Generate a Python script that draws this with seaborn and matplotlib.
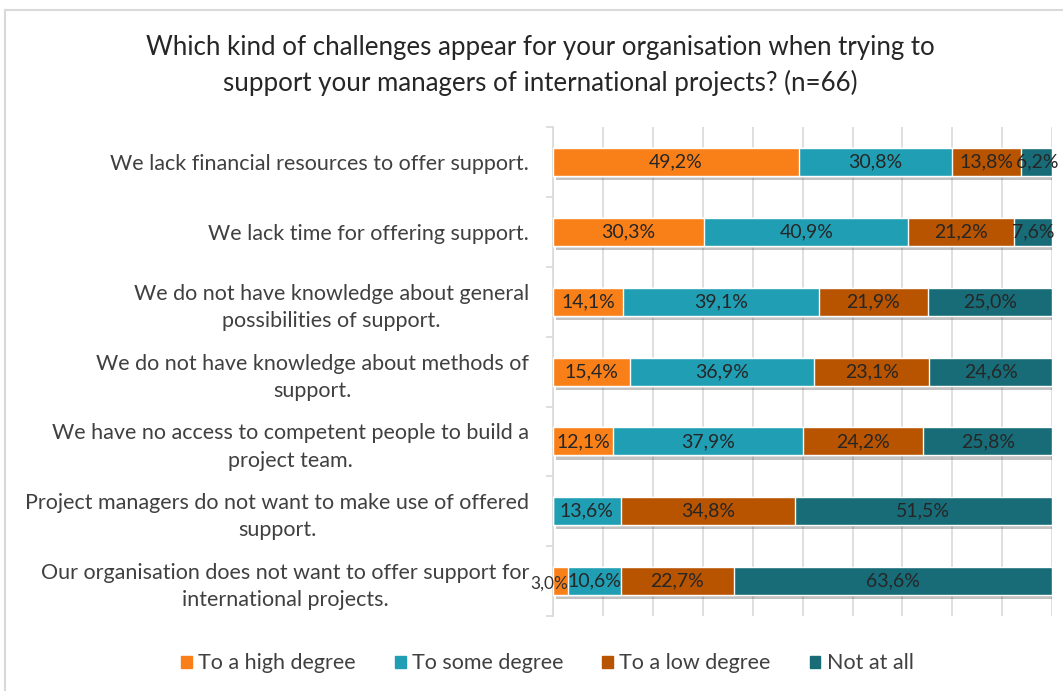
import pandas as pd
import seaborn as sns
import matplotlib.pyplot as plt
import numpy as np
from matplotlib.patches import Patch, Rectangle
import matplotlib.patheffects as pe

# -------------------------------------------------------------------
# Data
# -------------------------------------------------------------------
categories = [
    "We lack financial resources to offer support.",
    "We lack time for offering support.",
    "We do not have knowledge about general\npossibilities of support.",
    "We do not have knowledge about methods of\nsupport.",
    "We have no access to competent people to build a\nproject team.",
    "Project managers do not want to make use of offered\nsupport.",
    "Our organisation does not want to offer support for\ninternational projects.",
]
high_degree = [49.2, 30.3, 14.1, 15.4, 12.1, 0.0, 3.0]
some_degree = [30.8, 40.9, 39.1, 36.9, 37.9, 13.6, 10.6]
low_degree = [13.8, 21.2, 21.9, 23.1, 24.2, 34.8, 22.7]
not_at_all = [6.2, 7.6, 25.0, 24.6, 25.8, 51.5, 63.6]

series_names = ["To a high degree", "To some degree", "To a low degree", "Not at all"]
colors = ["#F98018", "#1F9EB4", "#B85300", "#176C78"]
title = ("Which kind of challenges appear for your organisation when trying to\n"
         "support your managers of international projects? (n=66)")

# -------------------------------------------------------------------
# Build table + cumulative sums for stacking
# -------------------------------------------------------------------
df = pd.DataFrame({
    "Category": categories,
    series_names[0]: high_degree,
    series_names[1]: some_degree,
    series_names[2]: low_degree,
    series_names[3]: not_at_all,
})
cum = df[series_names].cumsum(axis=1)
cum[series_names[-1]] = cum[series_names[-1]].clip(upper=100)

# -------------------------------------------------------------------
# Plot
# -------------------------------------------------------------------
sns.set_theme(style="white")
plt.rcParams["font.family"] = ["Lato", "DejaVu Sans"]

fig = plt.figure(figsize=(10.63, 6.91), dpi=100)
ax = fig.add_axes([0.520, 0.1085, 0.470, 0.7075])

# draw cumulative bars from the largest down so the segments stack
for i, name in reversed(list(enumerate(series_names))):
    sns.barplot(x=cum[name], y=df["Category"], orient="h", color=colors[i],
                width=0.4, saturation=1, ax=ax, zorder=3)

# drop shadow on the full-length (first drawn) bars
for p in ax.patches[:len(categories)]:
    p.set_path_effects([pe.SimplePatchShadow(offset=(2, -3), alpha=0.35, shadow_rgbFace="#555555"),
                        pe.Normal()])

# value labels centred in each segment (tiny segments: right-aligned to segment end)
for r in range(len(categories)):
    left = 0.0
    for name in series_names:
        v = df.loc[r, name]
        if v > 0:
            lbl = f"{v:.1f}%".replace(".", ",")
            if v < 5:
                ax.text(left + v, r + 0.04, lbl, ha="right", va="center", fontsize=12.5,
                        color="#333333", zorder=5)
            else:
                ax.text(left + v / 2, r, lbl, ha="center", va="center", fontsize=14,
                        color="#262626", zorder=5)
        left += v

ax.set_xlim(0, 100)
ax.set_ylim(len(categories) - 0.5, -0.5)
ax.set_xticks(np.arange(0, 101, 10))
ax.xaxis.grid(True, color="#D9D9D9", linewidth=1.2, zorder=0)
ax.set_axisbelow(True)
ax.tick_params(axis="x", length=0, labelbottom=False)
ax.set_xlabel("")
ax.set_ylabel("")

# left spine with ticks between categories
for s in ["top", "right", "bottom"]:
    ax.spines[s].set_visible(False)
ax.spines["left"].set_color("#D9D9D9")
ax.spines["left"].set_linewidth(1.2)
ax.set_yticks(np.arange(len(categories)))
ax.set_yticklabels(categories)
ax.set_yticks(np.arange(-0.5, len(categories), 1), minor=True)
ax.tick_params(axis="y", which="major", length=0, pad=17, labelsize=15.5, labelcolor="#404040")
ax.tick_params(axis="y", which="minor", length=5, color="#D9D9D9", width=1.2, left=True)
for lab in ax.get_yticklabels():
    lab.set_multialignment("center")
    lab.set_linespacing(1.45)

fig.text(0.508, 0.905, title, ha="center", va="center", fontsize=18.6,
         color="#262626", linespacing=1.5)

handles = [Patch(color=c, label=n) for n, c in zip(series_names, colors)]
fig.legend(handles=handles, loc="center", bbox_to_anchor=(0.515, 0.04), ncol=4,
           frameon=False, fontsize=15.5, handlelength=0.5, handleheight=0.5,
           handletextpad=0.3, columnspacing=1.8, labelcolor="#404040")

# light chart-area frame like the original export
fig.patches.append(Rectangle((0.005, -0.05), 1.2, 1.05 - 10 / 691, transform=fig.transFigure,
                             fill=False, edgecolor="#D9D9D9", linewidth=1.5))

plt.savefig("out.png", dpi=100)
plt.close()
